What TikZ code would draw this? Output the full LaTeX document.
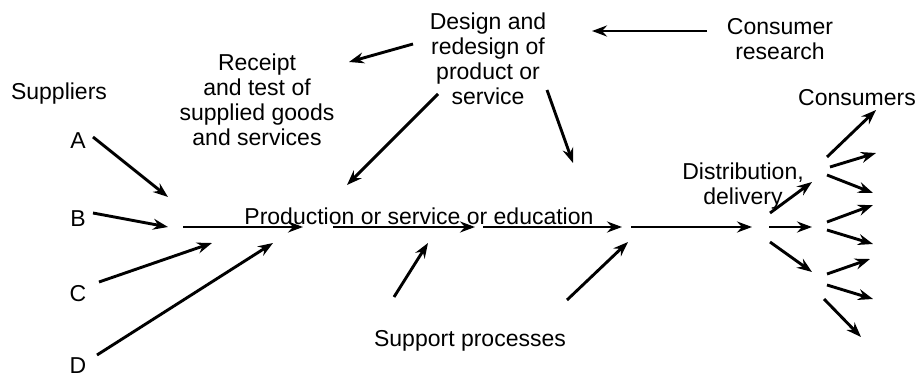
\documentclass[tikz,border=0pt]{standalone}
\usepackage{fontspec}
\setmainfont{Liberation Sans}
\usepackage{tikz}
\usetikzlibrary{arrows.meta}

\begin{document}
\begin{tikzpicture}[x=1pt,y=-1pt,line width=2.9pt,
  >={Stealth[length=15pt,width=11pt,inset=5pt]},
  every node/.style={inner sep=0pt,font=\fontsize{23}{25}\selectfont}]
\useasboundingbox (0,0) rectangle (920,377);

% labels
\node (sup) [anchor=base] at (59,100) {Suppliers};
\node (A) [anchor=base] at (78,148) {A};
\node (B) [anchor=base] at (78,226) {B};
\node (C) [anchor=base] at (78,301) {C};
\node (D) [anchor=base] at (78,373) {D};
\node (prod) [anchor=base west] at (243,224) {Production or service or education};
\node (supp) [anchor=base] at (470,346) {Support processes};
\node (cons) [anchor=base] at (857,106) {Consumers};
\node (res) [anchor=north,align=center] at (780,17) {Consumer\\research};
\node (des) [anchor=north,align=center] at (488,11) {Design and\\redesign of\\product or\\service};
\node (rec) [anchor=north,align=center] at (257,52) {Receipt\\and test of\\supplied goods\\and services};
\node (dist) [anchor=north,align=center] at (743,161) {Distribution,\\delivery};

% suppliers
\coordinate (A0) at (93,137);  \coordinate (A1) at (168,197);
\coordinate (B0) at (93,213);  \coordinate (B1) at (168,227);
\coordinate (C0) at (99,282);  \coordinate (C1) at (212,243);
\coordinate (D0) at (97,355);  \coordinate (D1) at (273,243);
\draw[->] (A0) -- (A1);
\draw[->] (B0) -- (B1);
\draw[->] (C0) -- (C1);
\draw[->] (D0) -- (D1);

% main line
\coordinate (m0) at (183,227); \coordinate (m1) at (303,227);
\coordinate (m2) at (333,227); \coordinate (m3) at (475,227);
\coordinate (m4) at (483,227); \coordinate (m5) at (622,227);
\coordinate (m6) at (631,227); \coordinate (m7) at (752,227);
\draw[->] (m0) -- (m1);
\draw[->] (m2) -- (m3);
\draw[->] (m4) -- (m5);
\draw[->] (m6) -- (m7);

% support processes
\coordinate (s0) at (394,297); \coordinate (s1) at (428,243);
\coordinate (s2) at (567,300); \coordinate (s3) at (628,242);
\draw[->] (s0) -- (s1);
\draw[->] (s2) -- (s3);

% design
\coordinate (d0) at (413,44);  \coordinate (d1) at (349,62);
\coordinate (d2) at (438,94);  \coordinate (d3) at (347,185);
\coordinate (d4) at (547,90);  \coordinate (d5) at (573,163);
\coordinate (r0) at (707,31);  \coordinate (r1) at (592,31);
\draw[->] (d0) -- (d1);
\draw[->] (d2) -- (d3);
\draw[->] (d4) -- (d5);
\draw[->] (r0) -- (r1);

% distribution
\coordinate (f0) at (770,213); \coordinate (f1) at (812,182);
\coordinate (f2) at (769,227); \coordinate (f3) at (812,227);
\coordinate (f4) at (770,242); \coordinate (f5) at (812,272);
\draw[->] (f0) -- (f1);
\draw[->] (f2) -- (f3);
\draw[->] (f4) -- (f5);

% consumers
\coordinate (c10) at (827,157); \coordinate (c11) at (876,110);
\coordinate (c20) at (830,167); \coordinate (c21) at (876,153);
\coordinate (c30) at (827,175); \coordinate (c31) at (873,193);
\coordinate (c40) at (827,222); \coordinate (c41) at (873,205);
\coordinate (c50) at (827,230); \coordinate (c51) at (873,244);
\coordinate (c60) at (827,274); \coordinate (c61) at (870,259);
\coordinate (c70) at (827,285); \coordinate (c71) at (873,299);
\coordinate (c80) at (824,299); \coordinate (c81) at (861,337);
\draw[->] (c10) -- (c11);
\draw[->] (c20) -- (c21);
\draw[->] (c30) -- (c31);
\draw[->] (c40) -- (c41);
\draw[->] (c50) -- (c51);
\draw[->] (c60) -- (c61);
\draw[->] (c70) -- (c71);
\draw[->] (c80) -- (c81);
\end{tikzpicture}
\end{document}
